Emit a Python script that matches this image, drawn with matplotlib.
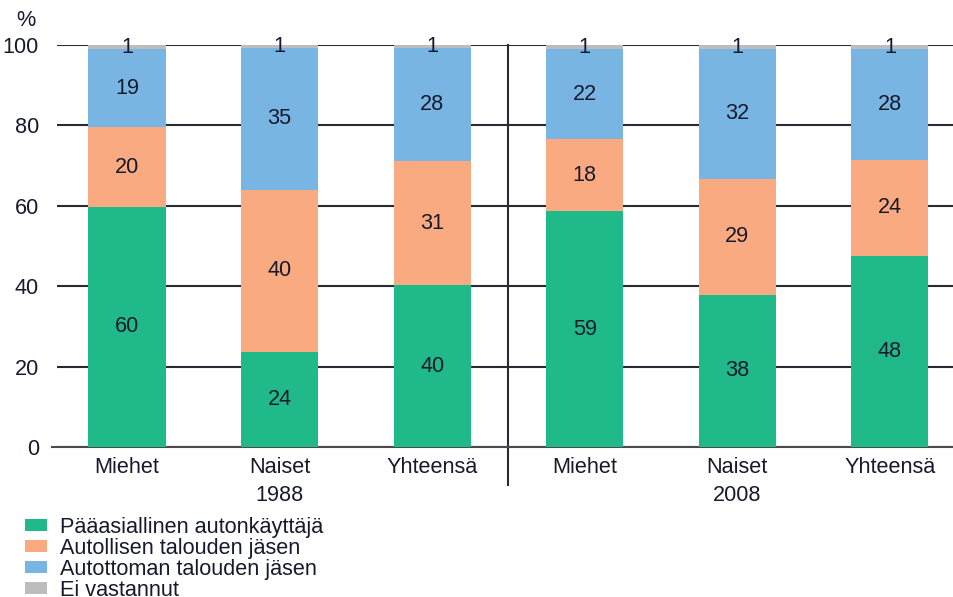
import numpy as np
import matplotlib
matplotlib.use('Agg')
import matplotlib.pyplot as plt
import matplotlib.transforms as mtransforms

plt.rcParams['font.family'] = ['Liberation Sans', 'DejaVu Sans']

groups = ['Miehet', 'Naiset', 'Yhteensä', 'Miehet', 'Naiset', 'Yhteensä']
years = ['1988', '2008']
series = ['Pääasiallinen autonkäyttäjä', 'Autollisen talouden jäsen',
          'Autottoman talouden jäsen', 'Ei vastannut']
paa = [59.7, 23.6, 40.2, 58.6, 37.9, 47.6]
autollinen = [19.9, 40.4, 31.0, 18.0, 28.8, 23.8]
autoton = [19.4, 35.2, 28.0, 22.4, 32.3, 27.6]
ei_vast = [1.0, 0.8, 0.8, 1.0, 1.0, 1.0]
colors = ['#20b98a', '#f9aa80', '#79b5e3', '#bdbdbf']
txt = '#161a2c'
fs = 15.6

fig = plt.figure(figsize=(9.54, 5.97), dpi=100)
ax = fig.add_axes([0.0597, 0.2513, 0.9403, 0.6733])

x = np.arange(len(groups))
w = 0.505
bottom = np.zeros(len(groups))
for vals, col, name in zip([paa, autollinen, autoton, ei_vast], colors, series):
    vals = np.array(vals)
    ax.bar(x, vals, w, bottom=bottom, color=col, label=name, zorder=3)
    for xi, b, v in zip(x, bottom, vals):
        ax.text(xi, b + v / 2, '%d' % round(v), ha='center', va='center',
                fontsize=fs, color=txt, zorder=4)
    bottom += vals

ax.set_xlim(-0.459, 5.42)
ax.set_ylim(0, 100)
ax.set_yticks([0, 20, 40, 60, 80, 100])
ax.yaxis.grid(True, color='#2a2a33', linewidth=1.5, zorder=1)
ax.tick_params(axis='y', length=0, pad=13, labelsize=fs, labelcolor=txt)
ax.tick_params(axis='x', length=0, pad=7, labelsize=fs, labelcolor=txt)
ax.set_xticks(x)
ax.set_xticklabels(groups)
for s in ['top', 'right', 'left']:
    ax.spines[s].set_visible(False)
ax.spines['bottom'].set_color('#4a4a50')
ax.spines['bottom'].set_linewidth(1.5)
ax.spines['bottom'].set_bounds(-0.49, 5.42)

# separator between the two years
trans = mtransforms.blended_transform_factory(ax.transData, ax.transAxes)
ax.plot([2.5, 2.5], [-0.095, 1.0], color='#2a2a33', linewidth=1.5,
        transform=trans, clip_on=False, zorder=2)

for i, yr in enumerate(years):
    ax.text(1 + 3 * i, -0.095, yr, transform=trans, ha='center', va='top',
            fontsize=fs, color=txt)

ax.text(-0.66, 1.035, '%', transform=trans, ha='center', va='bottom',
        fontsize=fs, color=txt)

fig.legend(loc='upper left', bbox_to_anchor=(0.0175, 0.149), frameon=False,
           fontsize=fs, handlelength=1.0, handleheight=0.5, handletextpad=0.6,
           labelspacing=0.0, borderaxespad=0, labelcolor=txt)

fig.savefig('out.png', dpi=100)
